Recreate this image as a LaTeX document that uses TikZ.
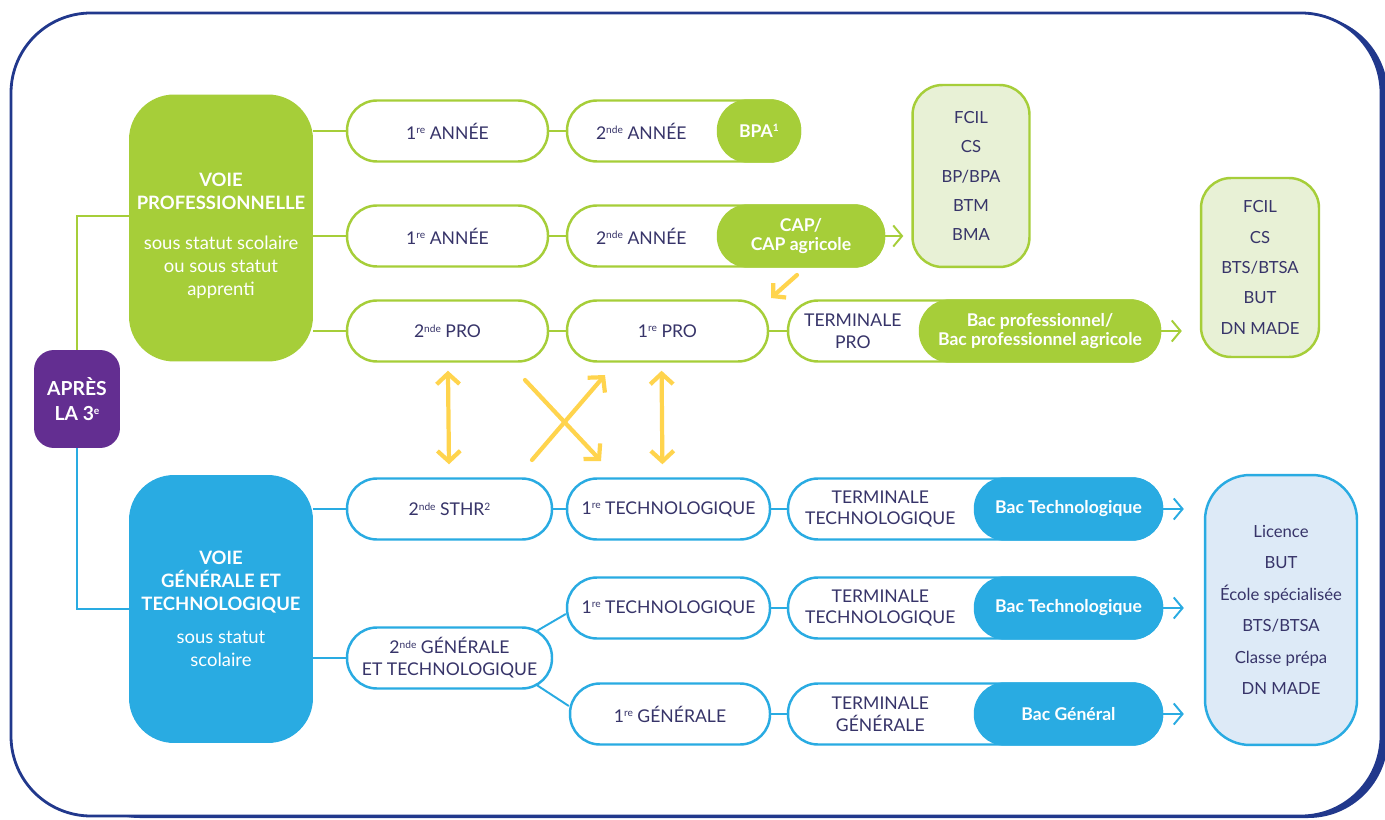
\documentclass[tikz,border=0pt]{standalone}
\usepackage{fontspec}
\setmainfont{Lato}
\usetikzlibrary{positioning,calc,arrows.meta}

\definecolor{frameblue}{RGB}{33,56,140}
\definecolor{progreen}{RGB}{166,206,57}
\definecolor{progreenlight}{RGB}{232,241,214}
\definecolor{genblue}{RGB}{41,171,226}
\definecolor{genbluelight}{RGB}{221,234,247}
\definecolor{apurple}{RGB}{99,46,145}
\definecolor{ayellow}{RGB}{255,212,77}
\definecolor{inktext}{RGB}{55,52,105}

\newcommand{\expo}[1]{\raisebox{0.6ex}{\fontsize{5.8}{6}\selectfont #1}}

\begin{document}
\begin{tikzpicture}[x=0.02cm,y=-0.02cm,
    pill/.style={draw,line width=1.4pt,fill=white,rounded corners=0.6cm,
      minimum height=1.22cm,inner sep=0pt,align=center,text=inktext,
      font=\fontsize{10}{12.5}\selectfont},
    pro pill/.style={pill,draw=progreen},
    gen pill/.style={pill,draw=genblue},
    bac/.style={draw,line width=1.4pt,rounded corners=0.6cm,minimum height=1.22cm,
      inner sep=0pt,align=center,text=white,anchor=east,
      font=\bfseries\fontsize{10}{11}\selectfont},
    pro bac/.style={bac,draw=progreen,fill=progreen},
    gen bac/.style={bac,draw=genblue,fill=genblue},
    pill text/.style={align=center,text=inktext,font=\fontsize{10}{12.5}\selectfont},
    main box/.style={rounded corners=0.9cm,minimum width=3.68cm,inner sep=0pt,
      align=center,text=white,font=\fontsize{10.5}{13}\selectfont},
    exit box/.style={draw,line width=1.4pt,rounded corners=0.6cm,inner sep=0pt,
      align=center,text=inktext},
    pro line/.style={draw=progreen,line width=1.1pt},
    gen line/.style={draw=genblue,line width=1.1pt},
    pro arrow/.style={pro line,-{Straight Barb[length=5pt,width=12pt]}},
    gen arrow/.style={gen line,-{Straight Barb[length=5pt,width=12pt]}},
    yellow arrow/.style={draw=ayellow,line width=2.4pt,line cap=round},
    ]
    % Frame
    \useasboundingbox (0,0) rectangle (1385,820);
    \fill[frameblue,rounded corners=1.6cm] (60,15) rectangle (1388,818);
    \draw[frameblue,fill=white,line width=1.6pt,rounded corners=1.6cm]
        (11,13) rectangle (1381,816);

    % Define tracks
    \node[main box,fill=apurple,rounded corners=0.4cm,minimum width=1.72cm,
        minimum height=1.96cm,font=\bfseries\fontsize{11}{14}\selectfont]
        (apres) at (77,399) {APRÈS\\LA 3\expo{e}};
    \node[main box,fill=progreen,minimum height=5.34cm] (pro) at (221,228) {};
    \node[main box] (pro text) at (221,236)
        {\textbf{VOIE}\\\textbf{PROFESSIONNELLE}\\[10pt]sous statut scolaire\\ou sous statut\\apprenti};
    \node[main box,fill=genblue,minimum height=5.36cm] (gen) at (221,609)
        {\textbf{VOIE}\\\textbf{GÉNÉRALE ET}\\\textbf{TECHNOLOGIQUE}\\[6pt]sous statut\\scolaire};

    % Define the vocational rows
    \node[pro pill,minimum width=4.02cm] (pa1) at (447.5,131) {1\expo{re} ANNÉE};
    \node[pro pill,minimum width=4.66cm] (pa2) at (683.5,131) {};
    \node[pro bac,minimum width=1.64cm] (bpa) at (pa2.east) {BPA\expo{1}};
    \node[pill text] at ($(pa2.west)!0.5!(bpa.west)$) {2\expo{nde} ANNÉE};

    \node[pro pill,minimum width=4.02cm] (pb1) at (447.5,236) {1\expo{re} ANNÉE};
    \node[pro pill,minimum width=6.34cm] (pb2) at (725.5,236) {};
    \node[pro bac,minimum width=3.32cm] (cap) at (pb2.east) {CAP/\\CAP agricole};
    \node[pill text] at ($(pb2.west)!0.5!(cap.west)$) {2\expo{nde} ANNÉE};

    \node[pro pill,minimum width=4.02cm] (pc1) at (447.5,331) {2\expo{nde} PRO};
    \node[pro pill,minimum width=4.02cm] (pc2) at (667.5,331) {1\expo{re} PRO};
    \node[pro pill,minimum width=7.44cm] (pc3) at (974,331) {};
    \node[pro bac,minimum width=4.8cm] (bacpro) at (pc3.east) {Bac professionnel/\\Bac professionnel agricole};
    \node[pill text] at ($(pc3.west)!0.5!(bacpro.west)$) {TERMINALE\\PRO};

    % Define the general rows
    \node[gen pill,minimum width=4.1cm] (gd1) at (449.5,509) {2\expo{nde} STHR\expo{2}};
    \node[gen pill,minimum width=4.06cm] (gd2) at (668.5,509) {1\expo{re} TECHNOLOGIQUE};
    \node[gen pill,minimum width=7.48cm] (gd3) at (975,509) {};
    \node[gen bac,minimum width=3.74cm] (bactech1) at (gd3.east) {Bac Technologique};
    \node[pill text] at ($(gd3.west)!0.5!(bactech1.west)$) {TERMINALE\\TECHNOLOGIQUE};

    \node[gen pill,minimum width=4.1cm] (gg) at (449.5,658) {2\expo{nde} GÉNÉRALE\\ET TECHNOLOGIQUE};
    \node[gen pill,minimum width=4.06cm] (ge1) at (668.5,608) {1\expo{re} TECHNOLOGIQUE};
    \node[gen pill,minimum width=7.48cm] (ge2) at (975,608) {};
    \node[gen bac,minimum width=3.74cm] (bactech2) at (ge2.east) {Bac Technologique};
    \node[pill text] at ($(ge2.west)!0.5!(bactech2.west)$) {TERMINALE\\TECHNOLOGIQUE};

    \node[gen pill,minimum width=4.0cm] (gf1) at (670,714) {1\expo{re} GÉNÉRALE};
    \node[gen pill,minimum width=7.48cm] (gf2) at (975,714) {};
    \node[gen bac,minimum width=3.74cm] (bacgen) at (gf2.east) {Bac Général};
    \node[pill text] at ($(gf2.west)!0.5!(bacgen.west)$) {TERMINALE\\GÉNÉRALE};

    % Define what comes after
    \node[exit box,draw=progreen,fill=progreenlight,minimum width=2.34cm,
        minimum height=3.64cm,font=\fontsize{9.5}{16.6}\selectfont]
        (after cap) at (971,176) {FCIL\\CS\\BP/BPA\\BTM\\BMA};
    \node[exit box,draw=progreen,fill=progreenlight,minimum width=2.36cm,
        minimum height=3.58cm,font=\fontsize{9.5}{17.3}\selectfont]
        (after bacpro) at (1260,267.5) {FCIL\\CS\\BTS/BTSA\\BUT\\DN MADE};
    \node[exit box,draw=genblue,fill=genbluelight,minimum width=3.04cm,
        minimum height=5.4cm,rounded corners=0.9cm,font=\fontsize{9.5}{17.9}\selectfont]
        (after bac) at (1281,610) {Licence\\BUT\\École spécialisée\\BTS/BTSA\\Classe prépa\\DN MADE};

    % Draw edges
    \draw[pro line] (apres.north) |- ([yshift=0.24cm]pro.west);
    \draw[gen line] (apres.south) |- (gen.west);
    \draw[pro line] (pa1.west -| pro.east) -- (pa1.west);
    \draw[pro line] (pb1.west -| pro.east) -- (pb1.west);
    \draw[pro line] (pc1.west -| pro.east) -- (pc1.west);
    \draw[pro line] (pa1) -- (pa2);
    \draw[pro line] (pb1) -- (pb2);
    \draw[pro line] (pc1) -- (pc2);
    \draw[pro line] (pc2) -- (pc3);
    \draw[pro arrow,shorten >=0.16cm] (cap.east) -- (cap.east -| after cap.west);
    \draw[pro arrow,shorten >=0.36cm] (bacpro.east) -- (bacpro.east -| after bacpro.west);

    \draw[gen line] (gd1.west -| gen.east) -- (gd1.west);
    \draw[gen line] (gg.west -| gen.east) -- (gg.west);
    \draw[gen line] (gd1) -- (gd2);
    \draw[gen line] (gd2) -- (gd3);
    \draw[gen line] ($(gg.north east)+(-17,5)$) -- ($(ge1.west)+(0,6)$);
    \draw[gen line] ($(gg.south east)+(-17,-5)$) -- ($(gf1.west)+(0,-8)$);
    \draw[gen line] (ge1) -- (ge2);
    \draw[gen line] (gf1) -- (gf2);
    \draw[gen arrow,shorten >=0.4cm] (bactech1.east) -- (bactech1.east -| after bac.west);
    \draw[gen arrow,shorten >=0.4cm] (bactech2.east) -- (bactech2.east -| after bac.west);
    \draw[gen arrow,shorten >=0.4cm] (bacgen.east) -- (bacgen.east -| after bac.west);

    % Passerelles
    \coordinate (xa) at (532,460);
    \coordinate (xb) at (605,375);
    \coordinate (xc) at (525,380);
    \coordinate (xd) at (601,461);
    \coordinate (capfrom) at (797,275);
    \coordinate (capto) at (771,298);
    \draw[yellow arrow,{Straight Barb[length=6pt,width=13pt]}-{Straight Barb[length=6pt,width=13pt]},
        shorten <=0.16cm,shorten >=0.26cm] (pc1) -- (gd1);
    \draw[yellow arrow,{Straight Barb[length=6pt,width=13pt]}-{Straight Barb[length=6pt,width=13pt]},
        shorten <=0.16cm,shorten >=0.26cm] ([xshift=-0.12cm]pc2.south) -- ([xshift=-0.12cm]gd2.north);
    \draw[yellow arrow,-{Straight Barb[length=6pt,width=13pt]}] (xa) -- (xb);
    \draw[yellow arrow,-{Straight Barb[length=6pt,width=13pt]}] (xc) -- (xd);
    \draw[yellow arrow,-{Straight Barb[length=5pt,width=11pt]}] (capfrom) -- (capto);
\end{tikzpicture}
\end{document}
